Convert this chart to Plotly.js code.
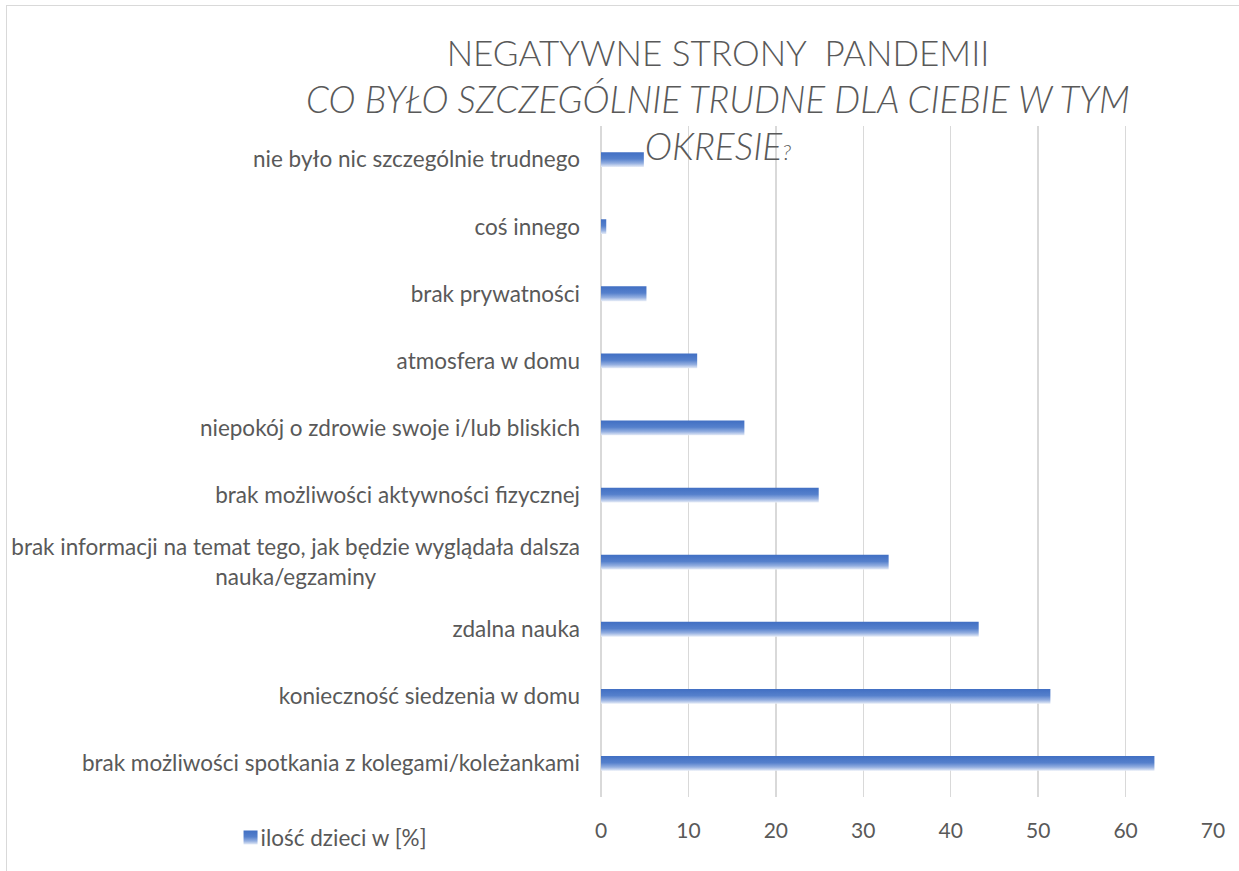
<!DOCTYPE html>
<html>
<head>
<meta charset="utf-8">
<script src="https://cdn.plot.ly/plotly-3.0.1.min.js"></script>
<style>
  html, body { margin: 0; padding: 0; background: #fff; }
  #chart { width: 1239px; height: 871px; }
  #frame { position: absolute; left: 6px; top: 5px; width: 1300px; height: 900px;
           border-left: 1.5px solid #d9d9d9; border-top: 1.5px solid #d9d9d9; pointer-events: none; }
</style>
</head>
<body>
<div id="chart"></div>
<div id="frame"></div>
<script>
// Categories (bottom to top, as drawn)
const categories = [
  "brak możliwości spotkania z kolegami/koleżankami",
  "konieczność siedzenia w domu",
  "zdalna nauka",
  "brak informacji na temat tego, jak będzie wyglądała dalsza<br>nauka/egzaminy",
  "brak możliwości aktywności fizycznej",
  "niepokój o zdrowie swoje i/lub bliskich",
  "atmosfera w domu",
  "brak prywatności",
  "coś innego",
  "nie było nic szczególnie trudnego"
];
// Share of children [%]
const values = [63.3, 51.4, 43.2, 32.9, 24.9, 16.4, 11.0, 5.2, 0.6, 4.9];
const seriesName = "ilość dzieci w [%]";
const xTicks = [0, 10, 20, 30, 40, 50, 60, 70];

const FONT = "Lato, 'Open Sans', sans-serif";
const GREY = "#595959";

const trace = {
  type: "bar",
  orientation: "h",
  y: categories,
  x: values,
  name: seriesName,
  marker: { color: "#4472C4", line: { width: 0 } },
  showlegend: true,
  hoverinfo: "x+y"
};

const layout = {
  width: 1239,
  height: 871,
  paper_bgcolor: "#ffffff",
  plot_bgcolor: "#ffffff",
  margin: { l: 601, r: 26, t: 126, b: 74 },
  bargap: 0.78,
  font: { family: FONT, color: GREY, size: 21 },
  title: {
    text: "<span style=\"font-size:35px\">NEGATYWNE STRONY\u00a0\u00a0PANDEMII</span><br>" +
          "<i><span style=\"font-size:36.6px\">CO BYŁO SZCZEGÓLNIE TRUDNE DLA CIEBIE W TYM</span><br>" +
          "<span style=\"font-size:37px\">OKRESIE</span><span style=\"font-size:22px\">?</span></i>",
    font: { family: FONT, size: 36, color: GREY, weight: 300 },
    xref: "container", x: 0.5795, xanchor: "center",
    yref: "container", y: 0.924, yanchor: "top"
  },
  xaxis: {
    range: [0, 70],
    tickvals: xTicks,
    ticktext: xTicks.map(String),
    showgrid: true,
    gridcolor: "#d9d9d9",
    gridwidth: 1.5,
    zeroline: true,
    zerolinecolor: "#d9d9d9",
    zerolinewidth: 1.5,
    showline: false,
    ticks: "",
    ticklabelstandoff: 19,
    tickfont: { size: 21, color: GREY, family: FONT },
    automargin: false,
    fixedrange: true
  },
  yaxis: {
    type: "category",
    showgrid: false,
    zeroline: false,
    showline: false,
    ticks: "",
    ticklabelstandoff: 20,
    tickfont: { size: 22.5, color: GREY, family: FONT },
    automargin: false,
    fixedrange: true
  },
  showlegend: true,
  legend: {
    xref: "container", yref: "container",
    x: 0.178, y: 0.038, xanchor: "left", yanchor: "middle",
    font: { size: 22.5, color: GREY, family: FONT },
    bgcolor: "rgba(0,0,0,0)",
    itemwidth: 30
  }
};

function applyGradient(gd) {
  const svg = gd.querySelector("svg.main-svg");
  const ns = "http://www.w3.org/2000/svg";
  let defs = svg.querySelector("defs");
  if (!defs) { defs = document.createElementNS(ns, "defs"); svg.insertBefore(defs, svg.firstChild); }
  const grad = document.createElementNS(ns, "linearGradient");
  grad.setAttribute("id", "barGrad");
  grad.setAttribute("x1", "0"); grad.setAttribute("y1", "0");
  grad.setAttribute("x2", "0"); grad.setAttribute("y2", "1");
  [["0", "#416fc3"], ["0.45", "#5580cc"], ["0.75", "#93aee0"], ["1", "#e6ecf7"]].forEach(s => {
    const st = document.createElementNS(ns, "stop");
    st.setAttribute("offset", s[0]);
    st.setAttribute("stop-color", s[1]);
    grad.appendChild(st);
  });
  defs.appendChild(grad);
  gd.querySelectorAll(".barlayer .point path").forEach(p => {
    p.style.fill = "url(#barGrad)";
  });
  // legend swatch: a slightly larger square, closer to the text
  gd.querySelectorAll(".legend .legendpoints path").forEach(p => {
    p.setAttribute("d", "M7,7H-7V-7H7Z");
    p.setAttribute("transform", "translate(30,0)");
    p.style.fill = "url(#barGrad)";
  });
  // center the second line of the wrapped category label under the first
  gd.querySelectorAll(".ytick text").forEach(t => {
    const lines = t.querySelectorAll("tspan.line");
    if (lines.length === 2) {
      const w1 = lines[0].getComputedTextLength();
      const w2 = lines[1].getComputedTextLength();
      const x = parseFloat(lines[1].getAttribute("x"));
      lines[1].setAttribute("x", x - (w1 - w2) / 2);
    }
  });
}

Plotly.newPlot("chart", [trace], layout, { displayModeBar: false, staticPlot: true })
  .then(gd => applyGradient(gd));
</script>
</body>
</html>
